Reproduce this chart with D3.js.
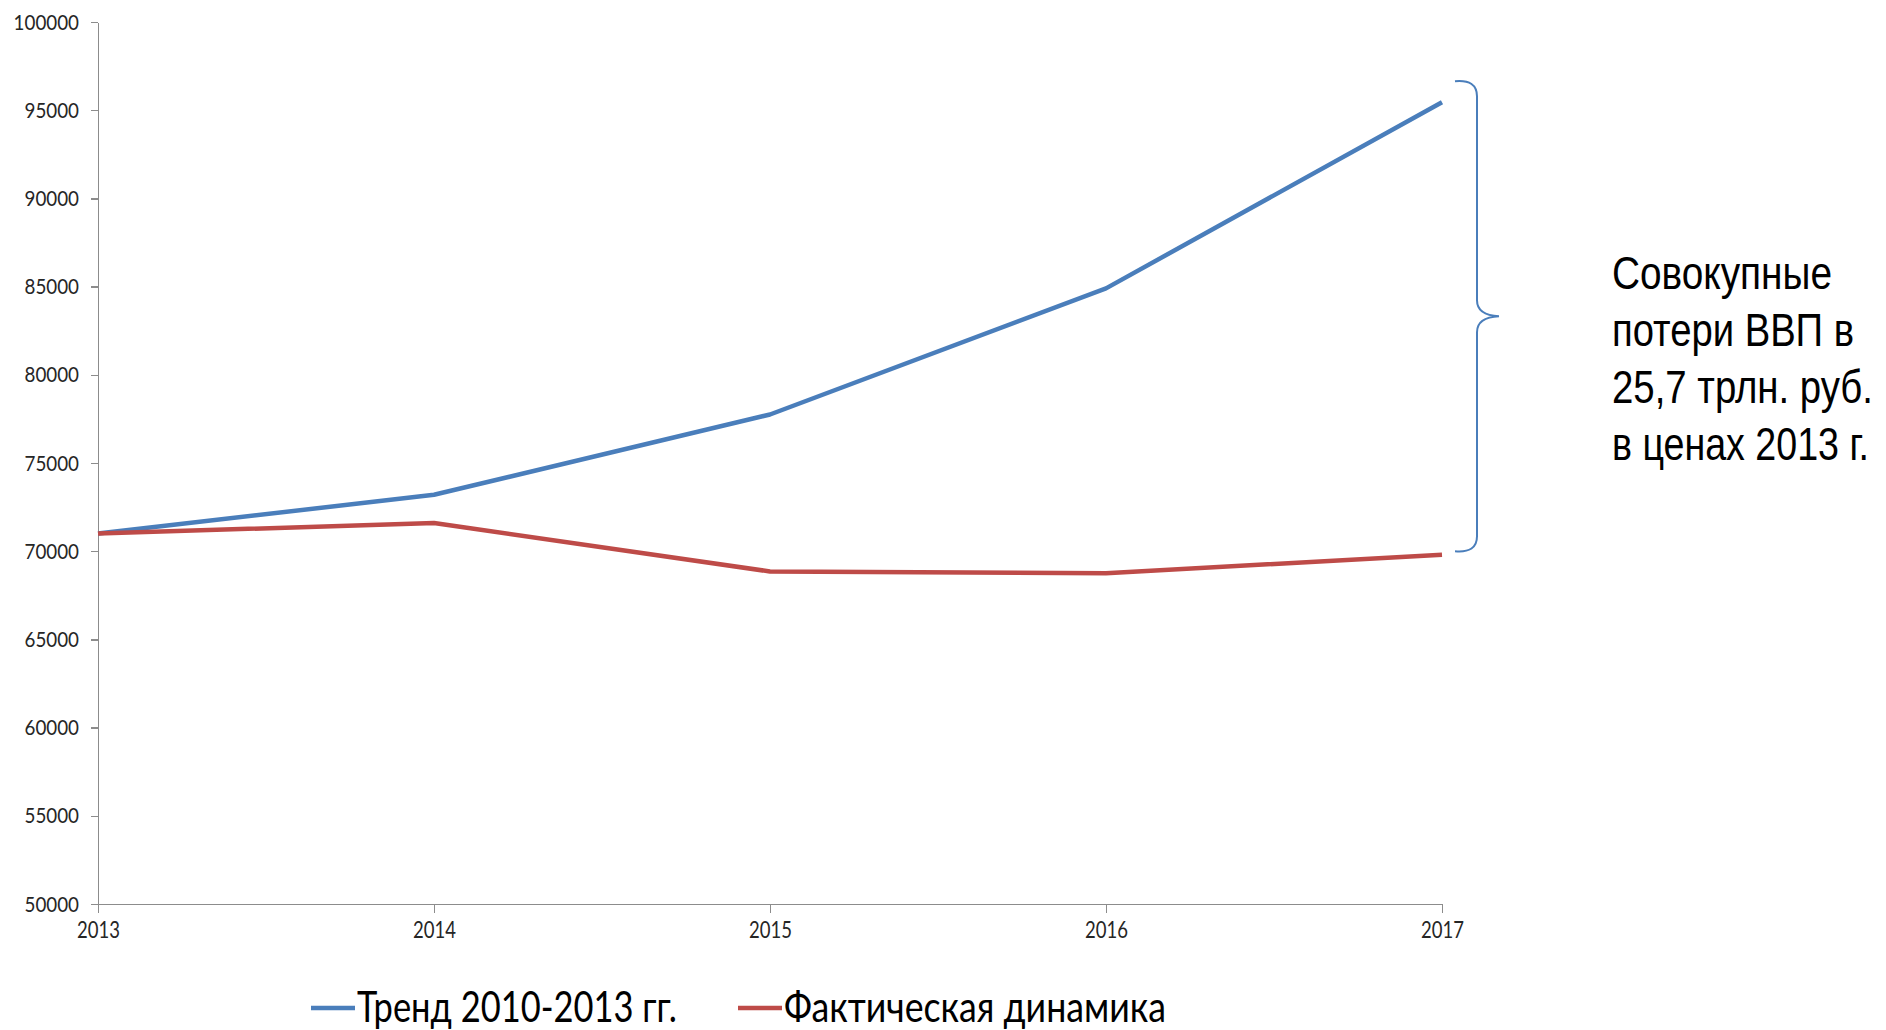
<!DOCTYPE html>
<html>
<head>
<meta charset="utf-8">
<script src="https://cdn.jsdelivr.net/npm/d3@7"></script>
<style>
  html, body { margin: 0; padding: 0; background: #fff; }
  svg { display: block; }
  .axis path, .axis line { stroke: #8c8c8c; stroke-width: 1.5; shape-rendering: crispEdges; }
  .axis text { font-family: Lato, "Open Sans", sans-serif; fill: #262626; }
</style>
</head>
<body>
<div id="chart"></div>
<script>
var years   = ["2013", "2014", "2015", "2016", "2017"]
  , trend   = [71000, 73200, 77750, 84900, 95450]
  , actual  = [71000, 71600, 68850, 68750, 69800]
  , yTicks  = [50000, 55000, 60000, 65000, 70000, 75000, 80000, 85000, 90000, 95000, 100000]
  , names   = ["Тренд 2010-2013 гг.", "Фактическая динамика"]
  , colors  = ["#4a7ebb", "#be4b48"]
  , note    = ["Совокупные", "потери ВВП в", "25,7 трлн. руб.", "в ценах 2013 г."];

var W = 1886, H = 1030;

var svg = d3.select("#chart").append("svg")
  .attr("width", W)
  .attr("height", H);

var x = d3.scalePoint().domain(years).range([98, 1442]);
var y = d3.scaleLinear().domain([50000, 100000]).range([904, 22]);

// axes
var gy = svg.append("g")
  .attr("class", "axis")
  .attr("transform", "translate(98,0)")
  .call(d3.axisLeft(y).tickValues(yTicks).tickFormat(d3.format("d"))
    .tickSize(7).tickSizeOuter(0).tickPadding(12));
gy.selectAll("text")
  .attr("font-size", 22)
  .attr("textLength", function(d) { return String(d).length * 10.9; })
  .attr("lengthAdjust", "spacingAndGlyphs");

var gx = svg.append("g")
  .attr("class", "axis")
  .attr("transform", "translate(0,904)")
  .call(d3.axisBottom(x).tickSize(9).tickSizeOuter(0).tickPadding(8));
gx.selectAll("text")
  .attr("font-size", 23.5)
  .attr("textLength", 43)
  .attr("lengthAdjust", "spacingAndGlyphs");

// series
var line = d3.line()
  .x(function(d, i) { return x(years[i]); })
  .y(function(d) { return y(d); });

svg.selectAll(".series")
  .data([trend, actual])
  .enter().append("path")
  .attr("class", "series")
  .attr("d", line)
  .attr("fill", "none")
  .attr("stroke", function(d, i) { return colors[i]; })
  .attr("stroke-width", 4.5)
  .attr("stroke-linejoin", "round");

// brace between the last points
var bx   = x(years[years.length - 1]) + 35
  , bTop = y(trend[trend.length - 1]) - 20
  , bBot = y(actual[actual.length - 1]) - 4.5
  , bMid = (bTop + bBot) / 2;

svg.append("path")
  .attr("d", "M" + (bx - 22) + "," + (bTop - 1) +
             " Q" + bx + "," + (bTop - 3) + " " + bx + "," + (bTop + 14) +
             " L" + bx + "," + (bMid - 16) +
             " Q" + bx + "," + (bMid - 1) + " " + (bx + 22) + "," + bMid +
             " Q" + bx + "," + (bMid + 1) + " " + bx + "," + (bMid + 16) +
             " L" + bx + "," + (bBot - 14) +
             " Q" + bx + "," + (bBot + 3) + " " + (bx - 22) + "," + (bBot + 1))
  .attr("fill", "none")
  .attr("stroke", "#4a7ebb")
  .attr("stroke-width", 2);

// annotation, squeezed horizontally like the original text box
var noteScale = 0.8, noteWidths = [220, 242, 261, 257];
svg.append("text")
  .attr("transform", "translate(1612,0) scale(" + noteScale + ",1)")
  .attr("font-family", "'Liberation Sans', Arial, sans-serif")
  .attr("font-size", 46)
  .attr("fill", "#000")
  .selectAll("tspan")
  .data(note)
  .enter().append("tspan")
  .attr("x", 0)
  .attr("y", function(d, i) { return 289 + i * 57; })
  .attr("textLength", function(d, i) { return noteWidths[i] / noteScale; })
  .attr("lengthAdjust", "spacingAndGlyphs")
  .text(function(d) { return d; });

// legend
var legX = [311, 738], legW = [320, 382];
var leg = svg.selectAll(".legend")
  .data(names)
  .enter().append("g")
  .attr("class", "legend")
  .attr("transform", function(d, i) { return "translate(" + legX[i] + ",0)"; });

leg.append("line")
  .attr("x1", 0).attr("x2", 44)
  .attr("y1", 1008).attr("y2", 1008)
  .attr("stroke", function(d, i) { return colors[i]; })
  .attr("stroke-width", 4.5);

leg.append("text")
  .attr("x", 46)
  .attr("y", 1022)
  .attr("font-family", "Lato, 'Open Sans', sans-serif")
  .attr("font-size", 42)
  .attr("fill", "#000")
  .attr("textLength", function(d, i) { return legW[i]; })
  .attr("lengthAdjust", "spacingAndGlyphs")
  .text(function(d) { return d; });
</script>
</body>
</html>
